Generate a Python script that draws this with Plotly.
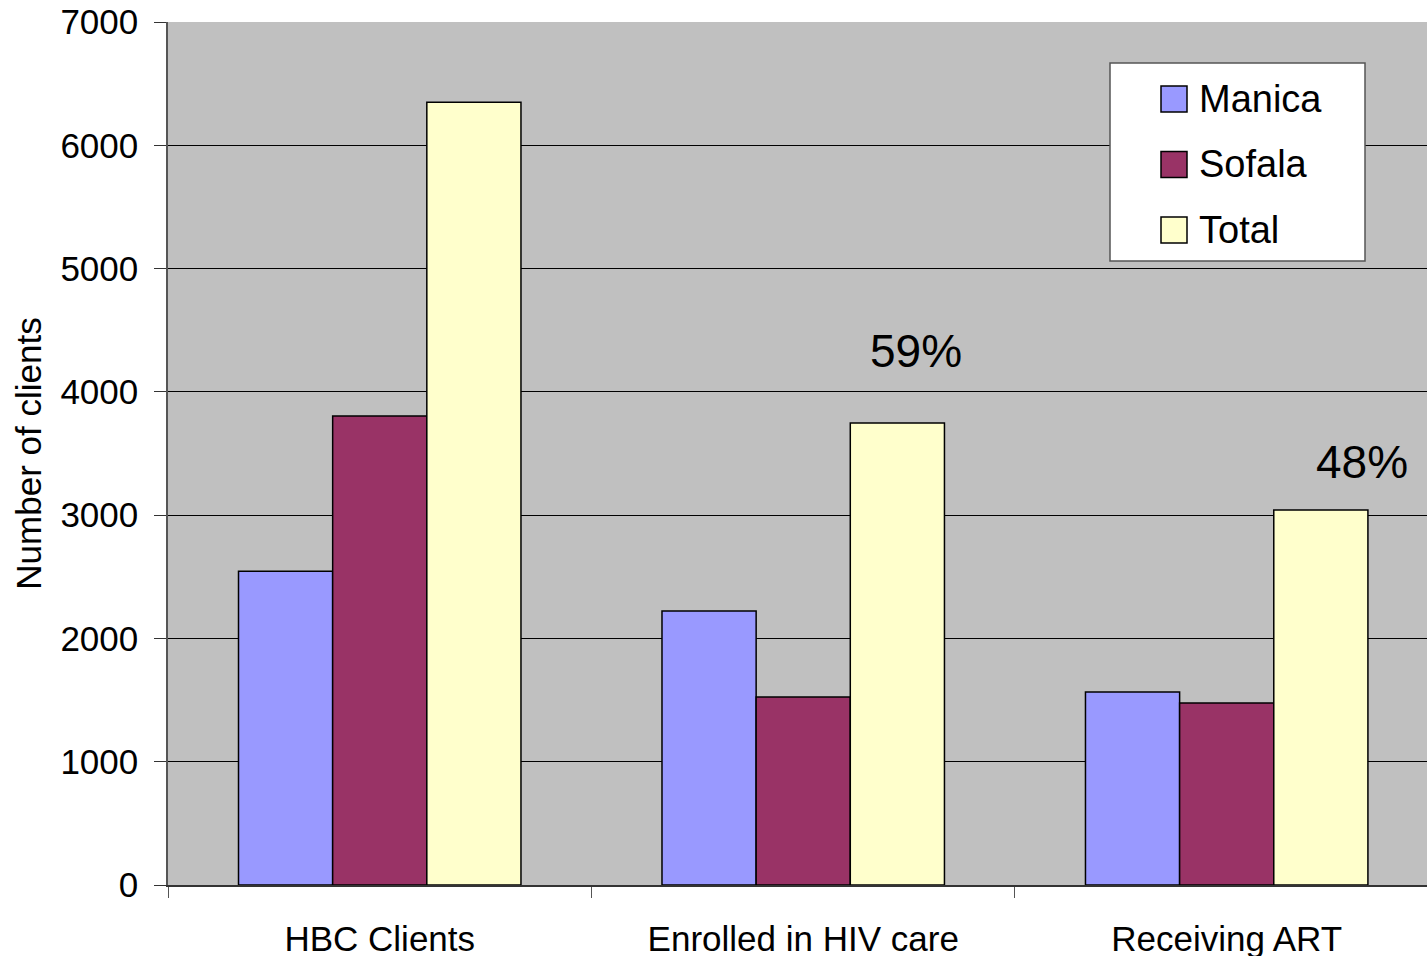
import plotly.graph_objects as go

# Client counts per stage of care, by province
categories = ["HBC Clients", "Enrolled in HIV care", "Receiving ART"]
manica = [2545, 2222, 1565]
sofala = [3805, 1525, 1476]
total = [6350, 3747, 3041]
y_ticks = [0, 1000, 2000, 3000, 4000, 5000, 6000, 7000]

FONT = "Liberation Sans, Arial, sans-serif"
W, H = 1427, 956
ML, MT, MB = 168, 22, 71
PW, PH = W - ML, H - MT - MB


def px_x(px):
    """Horizontal pixel position -> paper fraction."""
    return (px - ML) / PW


def px_y(py):
    """Vertical pixel position (from top) -> paper fraction."""
    return (H - MB - py) / PH


series = [
    ("Manica", manica, "#9999FF"),
    ("Sofala", sofala, "#993366"),
    ("Total", total, "#FFFFCC"),
]

fig = go.Figure()
for name, vals, color in series:
    fig.add_trace(go.Bar(
        name=name, x=categories, y=vals,
        marker=dict(color=color, line=dict(color="black", width=1.5)),
        showlegend=False,
    ))

# Share of HBC clients reaching each later stage, shown above the Total bars
for idx, (x_pos, y_pos) in zip([1, 2], [(1.266, 4330), (2.32, 3430)]):
    pct = round(100 * total[idx] / total[0])
    fig.add_annotation(
        x=x_pos, y=y_pos, xref="x", yref="y", text=f"{pct}%",
        showarrow=False, font=dict(family=FONT, size=46, color="black"),
    )

# Legend box with large square swatches
shapes = [dict(
    type="rect", xref="paper", yref="paper",
    x0=px_x(1110), x1=px_x(1365), y0=px_y(261), y1=px_y(63),
    fillcolor="white", line=dict(color="#555555", width=1.5), layer="above",
)]
for row, (name, _, color) in enumerate(series):
    cy = 99 + row * 65.5
    shapes.append(dict(
        type="rect", xref="paper", yref="paper",
        x0=px_x(1161), x1=px_x(1187), y0=px_y(cy + 13), y1=px_y(cy - 13),
        fillcolor=color, line=dict(color="black", width=1.5), layer="above",
    ))
    fig.add_annotation(
        x=px_x(1197), y=px_y(cy), xref="paper", yref="paper",
        xanchor="left", yanchor="middle", text=name, showarrow=False,
        font=dict(family=FONT, size=38, color="black"),
    )

fig.update_layout(
    width=W, height=H,
    margin=dict(l=ML, r=0, t=MT, b=MB),
    paper_bgcolor="white", plot_bgcolor="#C0C0C0",
    barmode="group", bargap=0.333, bargroupgap=0,
    font=dict(family=FONT, color="black"),
    showlegend=False,
    shapes=shapes,
)

fig.update_xaxes(
    type="category", range=[-0.5, 2.473], automargin=False,
    showgrid=False, showline=True, linecolor="#333333", linewidth=1.5,
    ticks="outside", tickson="boundaries", ticklen=11, tickcolor="#555555",
    tickfont=dict(family=FONT, size=35, color="black"),
    ticklabelstandoff=22,
)

fig.update_yaxes(
    range=[0, 7000], tickvals=y_ticks, automargin=False,
    showgrid=True, gridcolor="black", gridwidth=1,
    showline=True, linecolor="#555555", linewidth=1.5,
    zeroline=False,
    ticks="outside", ticklen=12, tickcolor="#333333",
    tickfont=dict(family=FONT, size=35, color="black"),
    ticklabelstandoff=9,
    title=dict(text="Number of clients", standoff=8,
               font=dict(family=FONT, size=35, color="black")),
)

fig.write_html("out.html")
